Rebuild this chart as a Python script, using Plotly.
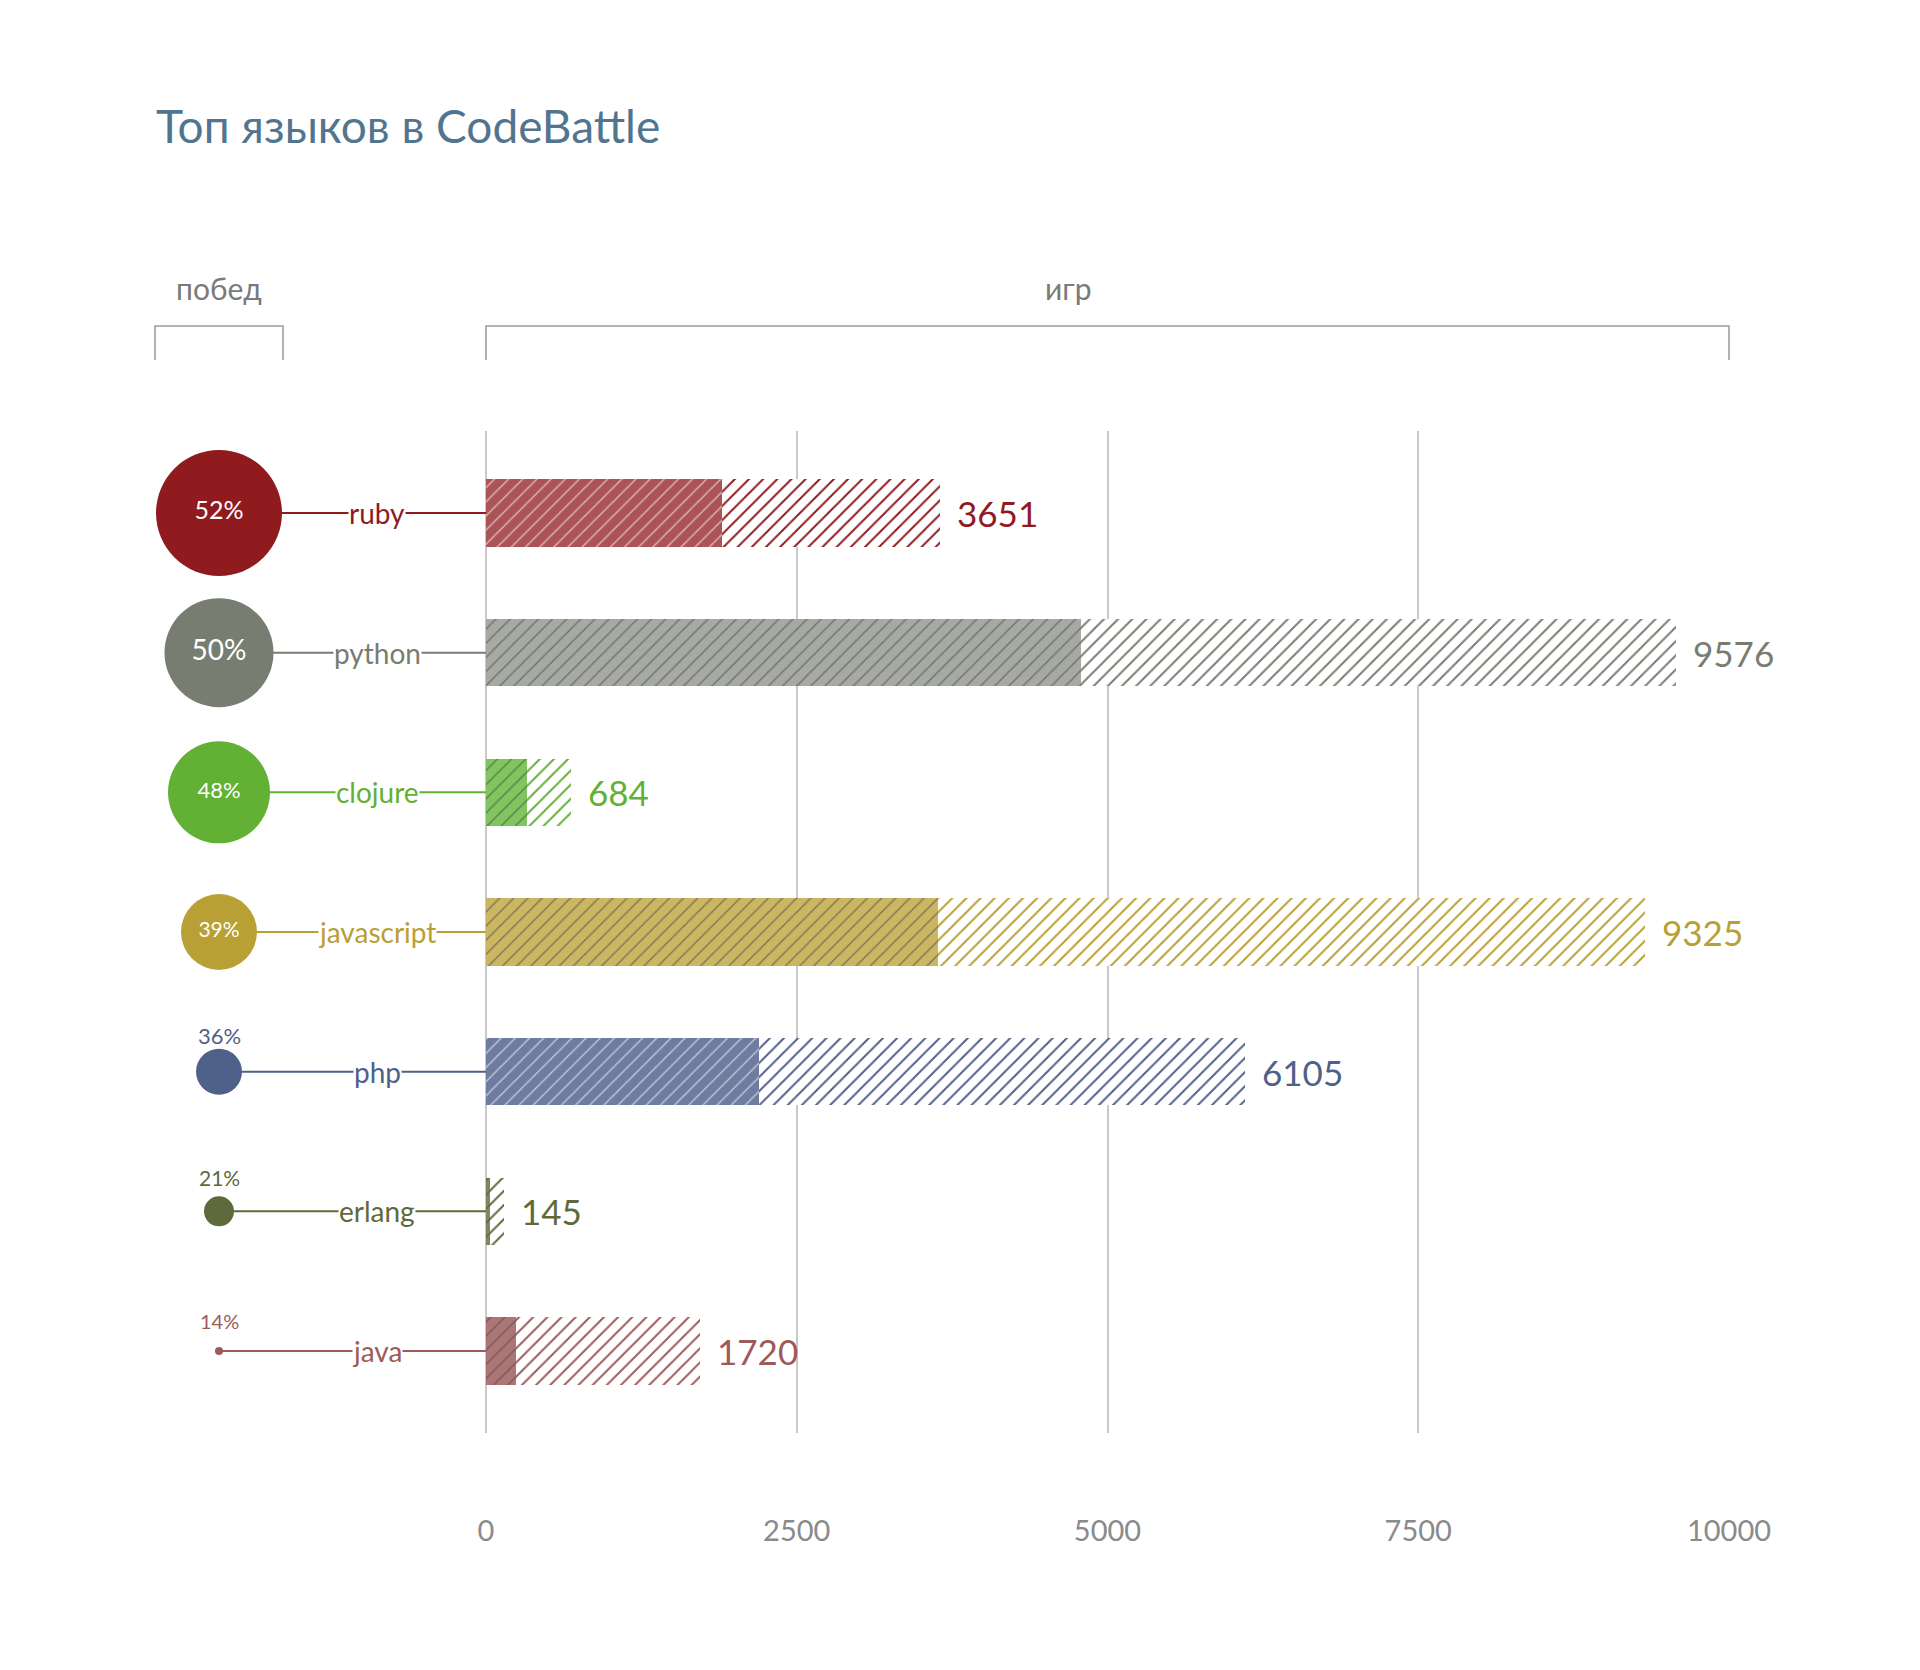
import plotly.graph_objects as go

W, H = 1920, 1670

# ---------------- data ----------------
languages = ["ruby", "python", "clojure", "javascript", "php", "erlang", "java"]
games = [3651, 9576, 684, 9325, 6105, 145, 1720]          # всего игр
wins = [1899, 4788, 328, 3637, 2198, 30, 241]             # побед (игр)
win_pct = [52, 50, 48, 39, 36, 21, 14]                    # процент побед
x_ticks = [0, 2500, 5000, 7500, 10000]

# ---------------- styles ----------------
colors = ["#901b1f", "#787d72", "#62b134", "#b9a034", "#506189", "#5e6a3b", "#9e5a5a"]
wins_fill = ["#ab5458", "#a7aaa2", "#80c55d", "#cbb661", "#6e7ca0", "#7f8760", "#ad7676"]
circle_diam = [126, 109, 102, 76, 46, 30, 8]
pct_font = [25, 28, 22, 21, 22, 21, 20]

FONT = "Lato, 'Noto Sans', sans-serif"
OFF = 8  # page body margin compensation
X0_PX, X1_PX = 486 - OFF, 1729 - OFF
TOP_PX, BOT_PX = 431 - OFF, 1433 - OFF
CIRCLE_X, LABEL_X = 219 - OFF, 377 - OFF
PAD = 0.587
n = len(languages)
rows = list(range(n))

fig = go.Figure()

# connector lines (left panel)
for i in rows:
    fig.add_trace(go.Scatter(
        x=[CIRCLE_X, X0_PX], y=[i, i], xaxis="x2", yaxis="y",
        mode="lines", line=dict(color=colors[i], width=2),
        hoverinfo="skip", showlegend=False))

# total games bars (hatched)
fig.add_trace(go.Bar(
    x=games, y=rows, orientation="h", width=0.48,
    marker=dict(color="white", line=dict(width=0),
                pattern=dict(shape="/", fgcolor=colors, bgcolor="white",
                             size=10, solidity=0.2, fillmode="replace")),
    showlegend=False, hoverinfo="x"))

# wins bars (solid + hatch)
fig.add_trace(go.Bar(
    x=wins, y=rows, orientation="h", width=0.48,
    marker=dict(color=wins_fill, line=dict(width=0),
                pattern=dict(shape="/", fgcolor=colors, fgopacity=0.55,
                             size=10, solidity=0.15, fillmode="overlay")),
    showlegend=False, hoverinfo="x"))

# circles
fig.add_trace(go.Scatter(
    x=[CIRCLE_X] * n, y=rows, xaxis="x2", yaxis="y", mode="markers",
    marker=dict(size=circle_diam, color=colors, line=dict(width=0), opacity=1),
    showlegend=False, hoverinfo="skip"))

inside = [i for i in rows if circle_diam[i] >= 60]
outside = [i for i in rows if circle_diam[i] < 60]

fig.add_trace(go.Scatter(
    x=[CIRCLE_X] * len(inside), y=inside, xaxis="x2", yaxis="y", mode="text",
    text=[f"{win_pct[i]}%" for i in inside], textposition="middle center",
    textfont=dict(family=FONT, color="white", size=[pct_font[i] for i in inside]),
    showlegend=False, hoverinfo="skip"))

annotations = []
# percent labels above small circles
for i in outside:
    annotations.append(dict(
        x=CIRCLE_X, y=i, xref="x2", yref="y", text=f"{win_pct[i]}%", showarrow=False,
        xanchor="center", yanchor="middle", yshift=29 + circle_diam[i] / 6,
        font=dict(family=FONT, size=pct_font[i], color=colors[i])))
# language labels
for i in rows:
    annotations.append(dict(
        x=LABEL_X, y=i, xref="x2", yref="y", text=languages[i], showarrow=False,
        xanchor="center", yanchor="middle", bgcolor="white", borderpad=0,
        font=dict(family=FONT, size=28, color=colors[i])))
# value labels
for i in rows:
    annotations.append(dict(
        x=games[i], y=i, xref="x", yref="y", text=str(games[i]), showarrow=False,
        xanchor="left", yanchor="middle", xshift=15,
        font=dict(family=FONT, size=35, color=colors[i])))

# title and headers
annotations += [
    dict(x=(154 - OFF) / W, y=1 - (126 - OFF) / H, xref="paper", yref="paper",
         text="Топ языков в CodeBattle",
         showarrow=False, xanchor="left", yanchor="middle",
         font=dict(family=FONT, size=46, color="#52758f")),
    dict(x=CIRCLE_X / W, y=1 - (288 - OFF) / H, xref="paper", yref="paper", text="побед",
         showarrow=False, xanchor="center", yanchor="middle",
         font=dict(family=FONT, size=30, color="#7a7a7a")),
    dict(x=(1068 - OFF) / W, y=1 - (288 - OFF) / H, xref="paper", yref="paper", text="игр",
         showarrow=False, xanchor="center", yanchor="middle",
         font=dict(family=FONT, size=30, color="#7a7a7a")),
]

by_top = 1 - (326 - OFF) / H
by_bot = 1 - (360 - OFF) / H
bracket_color = "#9a9a9a"
shapes = []
for (xa, xb) in [((155 - OFF) / W, (283 - OFF) / W), (X0_PX / W, X1_PX / W)]:
    shapes.append(dict(
        type="path", xref="paper", yref="paper",
        path=f"M {xa},{by_bot} L {xa},{by_top} L {xb},{by_top} L {xb},{by_bot}",
        line=dict(color=bracket_color, width=1.5)))

fig.update_layout(
    template="none",
    width=W, height=H, autosize=False,
    margin=dict(l=0, r=0, t=0, b=0, pad=0, autoexpand=False),
    paper_bgcolor="white", plot_bgcolor="white",
    barmode="overlay", bargap=0,
    showlegend=False,
    font=dict(family=FONT),
    xaxis=dict(domain=[X0_PX / W, X1_PX / W], range=[0, 10000], automargin=False,
               tickvals=x_ticks, ticktext=[str(t) for t in x_ticks],
               showgrid=True, gridcolor="#c9c9c9", gridwidth=1.5,
               zeroline=True, zerolinecolor="#c9c9c9", zerolinewidth=1.5,
               showline=False, ticks="", ticklabelstandoff=78,
               tickfont=dict(family=FONT, size=29, color="#8a8a8a"),
               fixedrange=True),
    xaxis2=dict(domain=[0, X0_PX / W], range=[0, X0_PX], anchor="y", automargin=False,
                showgrid=False, zeroline=False, showticklabels=False,
                showline=False, fixedrange=True),
    yaxis=dict(domain=[1 - BOT_PX / H, 1 - TOP_PX / H], automargin=False,
               range=[n - 1 + PAD, -PAD],
               showgrid=False, zeroline=False, showticklabels=False,
               showline=False, ticks="", fixedrange=True),
    annotations=annotations,
    shapes=shapes,
)

fig.write_html("out.html")
